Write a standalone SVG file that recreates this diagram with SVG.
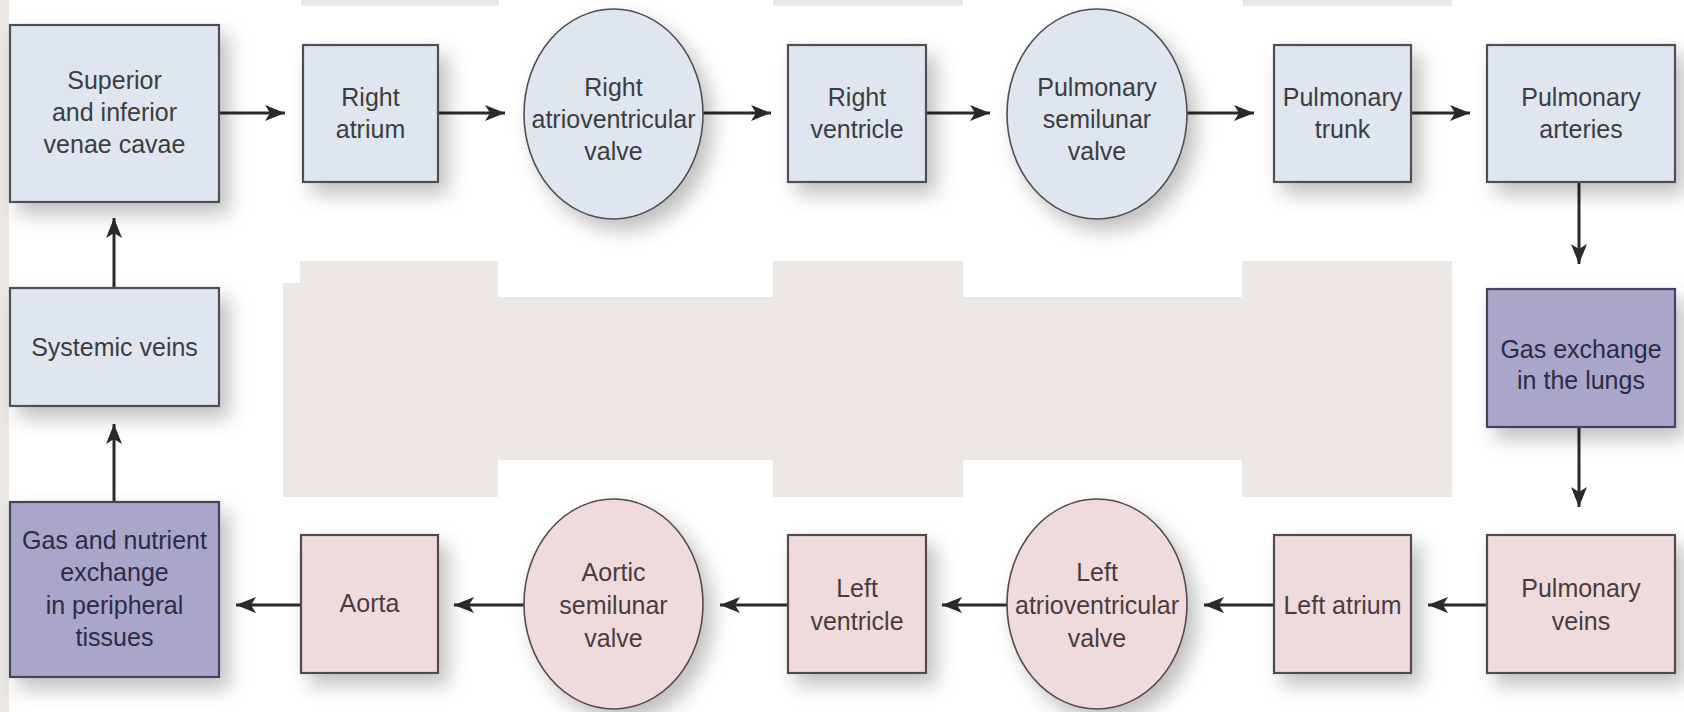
<svg xmlns="http://www.w3.org/2000/svg" width="1684" height="712" viewBox="0 0 1684 712">
<defs>
<filter id="sh" x="-25%" y="-25%" width="170%" height="170%">
<feDropShadow dx="9" dy="11" stdDeviation="10" flood-color="#000" flood-opacity="0.25"/>
</filter>
<marker id="ah" markerUnits="userSpaceOnUse" markerWidth="22" markerHeight="18" refX="20" refY="8" orient="auto">
<path d="M0,0 L20,8 L0,16 L5,8 z" fill="#2a2a2a"/>
</marker>
</defs>
<style>
.bg{fill:#ece8e5}
.blue{fill:#dfe6ef;stroke:#4d4f55;stroke-width:2.2}
.pink{fill:#efdbdb;stroke:#554a4b;stroke-width:2.2}
.purp{fill:#a9a6ca;stroke:#45445a;stroke-width:2.2}
.ell{stroke-width:1.6}
text{font-family:"Liberation Sans",Arial,sans-serif;font-size:25px;text-anchor:middle}
.tb{fill:#3b3d42}
.tp{fill:#4a3c3d}
.tu{fill:#2c2b45}
.con line{stroke:#2a2a2a;stroke-width:3;marker-end:url(#ah)}
</style>
<rect width="1684" height="712" fill="#ffffff"/>
<g id="background">
<rect class="bg" x="0" y="0" width="9" height="712"/>
<rect class="bg" x="301" y="0" width="198" height="6"/>
<rect class="bg" x="773" y="0" width="190" height="6"/>
<rect class="bg" x="1243" y="0" width="209" height="6"/>
<path class="bg" d="M283,283 L300,283 L300,261 L498,261 L498,297 L773,297 L773,261 L963,261 L963,297 L1242,297 L1242,261 L1452,261 L1452,497 L1242,497 L1242,460 L963,460 L963,497 L773,497 L773,460 L498,460 L498,497 L283,497 Z"/>
</g>
<g class="con" id="connectors">
<line x1="220" y1="113" x2="285" y2="113"/>
<line x1="438" y1="113" x2="505" y2="113"/>
<line x1="703" y1="113" x2="771" y2="113"/>
<line x1="926" y1="113" x2="990" y2="113"/>
<line x1="1187" y1="113" x2="1254" y2="113"/>
<line x1="1411" y1="113" x2="1470" y2="113"/>
<line x1="1579" y1="183" x2="1579" y2="264"/>
<line x1="1579" y1="427" x2="1579" y2="507"/>
<line x1="1487" y1="605" x2="1428" y2="605"/>
<line x1="1274" y1="605" x2="1204" y2="605"/>
<line x1="1007" y1="605" x2="942" y2="605"/>
<line x1="788" y1="605" x2="720" y2="605"/>
<line x1="524" y1="605" x2="454" y2="605"/>
<line x1="301" y1="605" x2="236" y2="605"/>
<line x1="114" y1="502" x2="114" y2="424"/>
<line x1="114" y1="288" x2="114" y2="218"/>
</g>
<g id="svc"><rect class="blue" filter="url(#sh)" x="10" y="25" width="209" height="177"/>
<text class="tb" x="114.5" y="89">Superior</text><text class="tb" x="114.5" y="121">and inferior</text><text class="tb" x="114.5" y="153">venae cavae</text></g>
<g id="right-atrium"><rect class="blue" filter="url(#sh)" x="303" y="45" width="135" height="137"/>
<text class="tb" x="370.5" y="106">Right</text><text class="tb" x="370.5" y="138">atrium</text></g>
<g id="right-av-valve"><ellipse class="blue ell" filter="url(#sh)" cx="613.5" cy="114" rx="89.5" ry="105"/>
<text class="tb" x="613.5" y="96">Right</text><text class="tb" x="613.5" y="128">atrioventricular</text><text class="tb" x="613.5" y="160">valve</text></g>
<g id="right-ventricle"><rect class="blue" filter="url(#sh)" x="788" y="45" width="138" height="137"/>
<text class="tb" x="857" y="106">Right</text><text class="tb" x="857" y="138">ventricle</text></g>
<g id="pulmonary-semilunar-valve"><ellipse class="blue ell" filter="url(#sh)" cx="1097" cy="114" rx="90" ry="105"/>
<text class="tb" x="1097" y="96">Pulmonary</text><text class="tb" x="1097" y="128">semilunar</text><text class="tb" x="1097" y="160">valve</text></g>
<g id="pulmonary-trunk"><rect class="blue" filter="url(#sh)" x="1274" y="45" width="137" height="137"/>
<text class="tb" x="1342.5" y="106">Pulmonary</text><text class="tb" x="1342.5" y="138">trunk</text></g>
<g id="pulmonary-arteries"><rect class="blue" filter="url(#sh)" x="1487" y="45" width="188" height="137"/>
<text class="tb" x="1581" y="106">Pulmonary</text><text class="tb" x="1581" y="138">arteries</text></g>
<g id="lungs"><rect class="purp" filter="url(#sh)" x="1487" y="289" width="188" height="138"/>
<text class="tu" x="1581" y="358">Gas exchange</text><text class="tu" x="1581" y="389">in the lungs</text></g>
<g id="pulmonary-veins"><rect class="pink" filter="url(#sh)" x="1487" y="535" width="188" height="138"/>
<text class="tp" x="1581" y="597">Pulmonary</text><text class="tp" x="1581" y="630">veins</text></g>
<g id="left-atrium"><rect class="pink" filter="url(#sh)" x="1274" y="535" width="137" height="138"/>
<text class="tp" x="1342.5" y="614">Left atrium</text></g>
<g id="left-av-valve"><ellipse class="pink ell" filter="url(#sh)" cx="1097" cy="604" rx="90" ry="105"/>
<text class="tp" x="1097" y="581">Left</text><text class="tp" x="1097" y="614">atrioventricular</text><text class="tp" x="1097" y="647">valve</text></g>
<g id="left-ventricle"><rect class="pink" filter="url(#sh)" x="788" y="535" width="138" height="138"/>
<text class="tp" x="857" y="597">Left</text><text class="tp" x="857" y="630">ventricle</text></g>
<g id="aortic-semilunar-valve"><ellipse class="pink ell" filter="url(#sh)" cx="613.5" cy="604" rx="89.5" ry="105"/>
<text class="tp" x="613.5" y="581">Aortic</text><text class="tp" x="613.5" y="614">semilunar</text><text class="tp" x="613.5" y="647">valve</text></g>
<g id="aorta"><rect class="pink" filter="url(#sh)" x="301" y="535" width="137" height="138"/>
<text class="tp" x="369.5" y="612">Aorta</text></g>
<g id="peripheral-exchange"><rect class="purp" filter="url(#sh)" x="10" y="502" width="209" height="175"/>
<text class="tu" x="114.5" y="549">Gas and nutrient</text><text class="tu" x="114.5" y="581">exchange</text><text class="tu" x="114.5" y="614">in peripheral</text><text class="tu" x="114.5" y="646">tissues</text></g>
<g id="systemic-veins"><rect class="blue" filter="url(#sh)" x="10" y="288" width="209" height="118"/>
<text class="tb" x="114.5" y="356">Systemic veins</text></g>
</svg>
